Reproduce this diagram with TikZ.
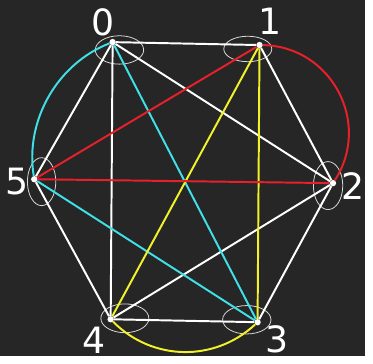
\documentclass[tikz,border=0pt]{standalone}
\usepackage{fontspec}
\setmainfont{DejaVu Sans}
\definecolor{bg}{HTML}{262626}
\definecolor{ecyan}{HTML}{40E0E6}
\definecolor{ered}{HTML}{E8202A}
\definecolor{eyellow}{HTML}{F2F22A}
\begin{document}
\begin{tikzpicture}[x=1pt, y=1pt,
  vtx/.style={circle, fill=white, inner sep=0pt, minimum size=6.5pt},
  lbl/.style={text=white, inner sep=0pt, font=\fontsize{37}{37}\selectfont},
  edge/.style={line width=2pt, draw=white},
  ring/.style={draw=white!85!black, line width=0.8pt}]
\fill[bg] (0,0) rectangle (373,-364);
\node[vtx] (v0) at (115,-43) {};
\node[vtx] (v1) at (265,-46) {};
\node[vtx] (v2) at (340,-187) {};
\node[vtx] (v3) at (263,-329) {};
\node[vtx] (v4) at (113,-326) {};
\node[vtx] (v5) at (35,-183) {};
\node[lbl] (l0) at (105,-23) {0};
\node[lbl] (l1) at (276,-22) {1};
\node[lbl] (l2) at (360,-190) {2};
\node[lbl] (l3) at (283,-346) {3};
\node[lbl] (l4) at (96,-347) {4};
\node[lbl] (l5) at (17,-185) {5};
\draw[ring] ([shift={(7,-8)}]v0.center) ellipse [x radius=24.7, y radius=14.5];
\draw[ring] ([shift={(-12,-4)}]v1.center) ellipse [x radius=24.5, y radius=13];
\draw[ring] ([shift={(-5,-2.5)}]v2.center) ellipse [x radius=15, y radius=24.5];
\draw[ring] ([shift={(-11,2.5)}]v3.center) ellipse [x radius=24.7, y radius=14.5];
\draw[ring] ([shift={(14.5,1)}]v4.center) ellipse [x radius=24.5, y radius=14.7];
\draw[ring] ([shift={(7.5,-2.5)}]v5.center) ellipse [x radius=14.5, y radius=24.5];
\foreach \a/\b in {v0/v1,v0/v2,v0/v4,v0/v5,v1/v2,v2/v3,v2/v4,v3/v4,v4/v5}
  \draw[edge] (\a) -- (\b);
\draw[edge, ecyan] (v0) -- (v3) (v3) -- (v5);
\draw[edge, ecyan] (v5) to[bend left=39, looseness=0.94] (v0);
\draw[edge, eyellow] (v1) -- (v4) (v1) -- (v3);
\draw[edge, eyellow] (v4) to[bend right=44, looseness=1] (v3);
\draw[edge, ered] (v1) -- (v5) (v2) -- (v5);
\draw[edge, ered] (v1) to[bend left=61, looseness=1.14] (v2);
\end{tikzpicture}
\end{document}
